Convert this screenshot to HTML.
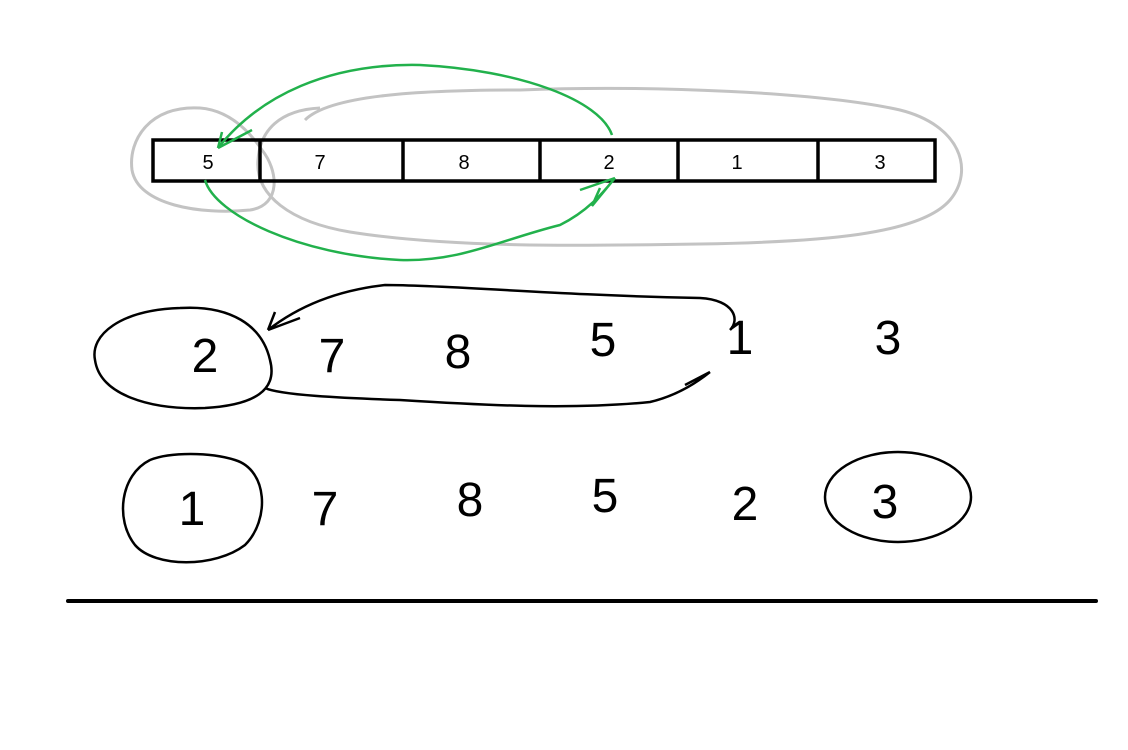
<!DOCTYPE html>
<html><head><meta charset="utf-8"><style>
html,body{margin:0;padding:0;background:#fff;width:1128px;height:750px;overflow:hidden}
svg{display:block}
.hd{font-family:"Liberation Sans",sans-serif;font-size:48px;fill:#000;font-weight:normal}
.cell{font-family:"Liberation Sans",sans-serif;font-size:20px;fill:#000}
</style></head><body>
<svg width="1128" height="750" viewBox="0 0 1128 750">
<!-- gray ellipses -->
<path d="M200,108 C150,105 128,140 132,170 C138,205 200,215 250,210 C282,205 278,170 262,150 C245,125 225,110 200,108 Z" fill="none" stroke="#c3c3c3" stroke-width="3"/>
<path d="M305,120 C330,95 420,90 520,90 C650,85 820,92 900,110 C960,125 975,170 950,200 C920,235 820,242 700,244 C580,246 450,248 350,232 C290,222 255,195 258,160 C260,130 280,110 320,108" fill="none" stroke="#c3c3c3" stroke-width="3"/>
<!-- array -->
<g>
<rect x="153" y="140" width="782" height="41" fill="none" stroke="#000" stroke-width="3.5"/>
<line x1="260" y1="140" x2="260" y2="181" stroke="#000" stroke-width="3.5"/>
<line x1="403" y1="140" x2="403" y2="181" stroke="#000" stroke-width="3.5"/>
<line x1="540" y1="140" x2="540" y2="181" stroke="#000" stroke-width="3.5"/>
<line x1="678" y1="140" x2="678" y2="181" stroke="#000" stroke-width="3.5"/>
<line x1="818" y1="140" x2="818" y2="181" stroke="#000" stroke-width="3.5"/>
<text class="cell" x="208" y="169" text-anchor="middle">5</text>
<text class="cell" x="320" y="169" text-anchor="middle">7</text>
<text class="cell" x="464" y="169" text-anchor="middle">8</text>
<text class="cell" x="609" y="169" text-anchor="middle">2</text>
<text class="cell" x="737" y="169" text-anchor="middle">1</text>
<text class="cell" x="880" y="169" text-anchor="middle">3</text>
</g>
<!-- green arrows -->
<path d="M612,135 C600,100 520,70 420,65 C330,63 260,95 218,148 M218,148 L222,132 M218,148 L252,130" fill="none" stroke="#22b14c" stroke-width="2.5"/>
<path d="M205,180 C215,215 300,255 400,260 C460,262 500,240 560,225 C590,210 605,190 615,178 M615,178 L580,190 M615,178 L592,206 L600,188" fill="none" stroke="#22b14c" stroke-width="2.5"/>
<!-- row 2 -->
<path d="M180,308 C120,310 90,335 95,360 C100,395 150,410 205,408 C255,405 278,390 270,360 C262,325 230,305 180,308" fill="none" stroke="#000" stroke-width="2.5"/>
<path d="M268,330 C300,305 340,290 385,285 C450,285 550,295 700,298 C735,300 740,320 730,330 M265,388 C280,395 340,398 400,400 C480,405 570,410 650,402 C680,395 700,380 710,372 M268,330 L275,312 M268,330 L300,318 M710,372 L685,385 M710,372 L695,380" fill="none" stroke="#000" stroke-width="2.5"/>
<g>
<text class="hd" x="205" y="372" text-anchor="middle">2</text>
<text class="hd" x="332" y="372" text-anchor="middle">7</text>
<text class="hd" x="458" y="368" text-anchor="middle">8</text>
<text class="hd" x="603" y="356" text-anchor="middle">5</text>
<text class="hd" x="740" y="354" text-anchor="middle">1</text>
<text class="hd" x="888" y="354" text-anchor="middle">3</text>
</g>
<!-- row 3 -->
<path d="M150,460 C120,475 115,520 135,545 C155,568 215,568 245,545 C270,520 268,470 235,460 C210,452 170,452 150,460" fill="none" stroke="#000" stroke-width="2.5"/>
<ellipse cx="898" cy="497" rx="73" ry="45" fill="none" stroke="#000" stroke-width="2.5"/>
<g>
<text class="hd" x="192" y="525" text-anchor="middle">1</text>
<text class="hd" x="325" y="525" text-anchor="middle">7</text>
<text class="hd" x="470" y="516" text-anchor="middle">8</text>
<text class="hd" x="605" y="512" text-anchor="middle">5</text>
<text class="hd" x="745" y="520" text-anchor="middle">2</text>
<text class="hd" x="885" y="518" text-anchor="middle">3</text>
</g>
<line x1="68" y1="601" x2="1096" y2="601" stroke="#000" stroke-width="4" stroke-linecap="round"/>
</svg>
</body></html>
